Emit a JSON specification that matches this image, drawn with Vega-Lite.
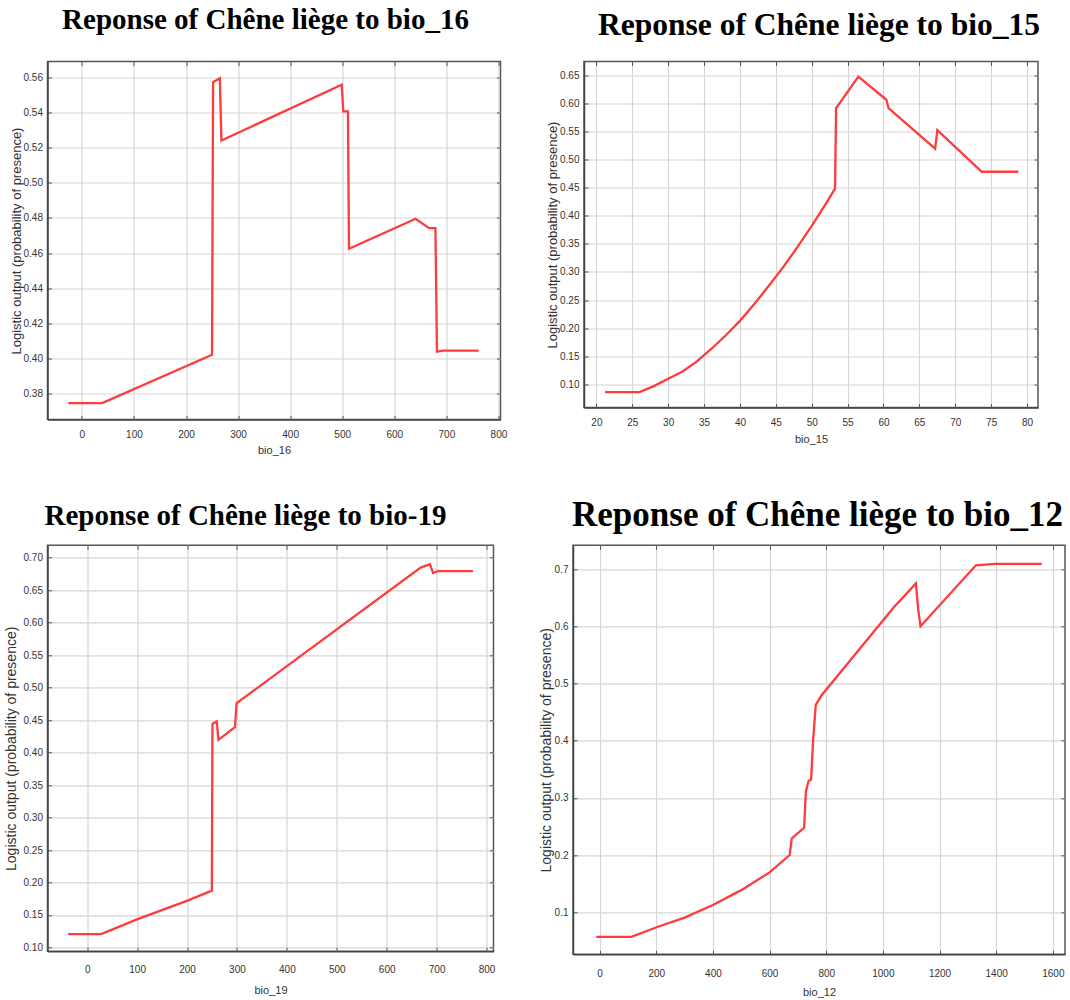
{
  "$schema": "https://vega.github.io/schema/vega-lite/v6.json",
  "background": "white",
  "padding": {"left": 2.5, "top": 4.5, "right": 0, "bottom": 0},
  "config": {
    "view": {"stroke": "#555555", "strokeWidth": 1.5},
    "axis": {
      "labelFont": "Liberation Sans", "labelFontSize": 10, "labelColor": "#333333",
      "titleFont": "Liberation Sans", "titleFontSize": 11, "titleFontWeight": "normal", "titleColor": "#333333",
      "gridColor": "#d6d6d6", "gridWidth": 1.2,
      "tickColor": "#555555", "tickSize": -4, "tickWidth": 1, "labelPadding": 9,
      "domain": true, "domainColor": "#444444", "domainWidth": 1.5
    },
    "title": {"font": "Liberation Serif", "fontWeight": "bold", "color": "#000000", "anchor": "middle", "frame": "group"}
  },
  "spacing": 40.8,
  "vconcat": [
    {
      "spacing": 36.5,
      "hconcat": [
        {
          "title": {"text": "Reponse of Chêne liège to bio_16", "fontSize": 29, "offset": 26, "dx": -8.5},
          "width": 453, "height": 358,
          "data": {"values": [
            {"bio_16": -26, "logistic": 0.3747}, {"bio_16": 39, "logistic": 0.3747},
            {"bio_16": 250, "logistic": 0.4022}, {"bio_16": 252, "logistic": 0.5572},
            {"bio_16": 265, "logistic": 0.5594}, {"bio_16": 268, "logistic": 0.524},
            {"bio_16": 499, "logistic": 0.5557}, {"bio_16": 502, "logistic": 0.5405},
            {"bio_16": 511, "logistic": 0.5405}, {"bio_16": 513, "logistic": 0.4625},
            {"bio_16": 641, "logistic": 0.4795}, {"bio_16": 667, "logistic": 0.4742},
            {"bio_16": 679, "logistic": 0.4742}, {"bio_16": 682, "logistic": 0.404},
            {"bio_16": 694, "logistic": 0.4046}, {"bio_16": 762, "logistic": 0.4046}
          ]},
          "layer": [
            {
              "mark": {"type": "line", "color": "#ff3b3b", "strokeWidth": 2.3},
              "encoding": {
                "x": {"field": "bio_16", "type": "quantitative", "scale": {"domain": [-66, 804], "nice": false, "zero": false},
                      "axis": {"title": "bio_16", "labelPadding": 14, "titlePadding": 5, "values": [0, 100, 200, 300, 400, 500, 600, 700, 800], "grid": true}},
                "y": {"field": "logistic", "type": "quantitative", "scale": {"domain": [0.3654, 0.5689], "nice": false, "zero": false},
                      "axis": {"title": "Logistic output (probability of presence)", "titleFontSize": 13, "titlePadding": 0, "values": [0.38, 0.40, 0.42, 0.44, 0.46, 0.48, 0.50, 0.52, 0.54, 0.56], "format": ".2f", "grid": true}}
              }
            },
            {
              "mark": {"type": "line", "strokeOpacity": 0},
              "encoding": {
                "x": {"field": "bio_16", "type": "quantitative", "scale": {"domain": [-66, 804], "nice": false, "zero": false},
                      "axis": {"orient": "top", "labels": false, "grid": false, "domain": false, "title": null, "values": [0, 100, 200, 300, 400, 500, 600, 700, 800]}},
                "y": {"field": "logistic", "type": "quantitative", "scale": {"domain": [0.3654, 0.5689], "nice": false, "zero": false},
                      "axis": {"orient": "right", "labels": false, "grid": false, "domain": false, "title": null, "values": [0.38, 0.40, 0.42, 0.44, 0.46, 0.48, 0.50, 0.52, 0.54, 0.56]}}
              }
            }
          ],
          "resolve": {"axis": {"x": "independent", "y": "independent"}}
        },
        {
          "title": {"text": "Reponse of Chêne liège to bio_15", "fontSize": 31.5, "offset": 20, "dx": 8},
          "width": 454, "height": 346,
          "data": {"values": [
            {"bio_15": 21.2, "logistic": 0.0865}, {"bio_15": 26.0, "logistic": 0.0865},
            {"bio_15": 28, "logistic": 0.097}, {"bio_15": 30, "logistic": 0.110},
            {"bio_15": 32, "logistic": 0.123}, {"bio_15": 34, "logistic": 0.141},
            {"bio_15": 36, "logistic": 0.163}, {"bio_15": 38, "logistic": 0.187},
            {"bio_15": 40, "logistic": 0.213}, {"bio_15": 42, "logistic": 0.243},
            {"bio_15": 44, "logistic": 0.275}, {"bio_15": 46, "logistic": 0.308},
            {"bio_15": 48, "logistic": 0.344}, {"bio_15": 50, "logistic": 0.382},
            {"bio_15": 52, "logistic": 0.422}, {"bio_15": 53.25, "logistic": 0.448},
            {"bio_15": 53.4, "logistic": 0.591}, {"bio_15": 56.5, "logistic": 0.647},
            {"bio_15": 60.4, "logistic": 0.606}, {"bio_15": 60.7, "logistic": 0.591},
            {"bio_15": 67.2, "logistic": 0.519}, {"bio_15": 67.5, "logistic": 0.552},
            {"bio_15": 73.7, "logistic": 0.478}, {"bio_15": 78.8, "logistic": 0.478}
          ]},
          "layer": [
            {
              "mark": {"type": "line", "color": "#ff3b3b", "strokeWidth": 2.3},
              "encoding": {
                "x": {"field": "bio_15", "type": "quantitative", "scale": {"domain": [18.27, 81.53], "nice": false, "zero": false},
                      "axis": {"title": "bio_15", "labelPadding": 14, "titlePadding": 6, "values": [20, 25, 30, 35, 40, 45, 50, 55, 60, 65, 70, 75, 80], "grid": true}},
                "y": {"field": "logistic", "type": "quantitative", "scale": {"domain": [0.059, 0.674], "nice": false, "zero": false},
                      "axis": {"title": "Logistic output (probability of presence)", "titleFontSize": 13, "titlePadding": 0, "values": [0.10, 0.15, 0.20, 0.25, 0.30, 0.35, 0.40, 0.45, 0.50, 0.55, 0.60, 0.65], "format": ".2f", "grid": true}}
              }
            },
            {
              "mark": {"type": "line", "strokeOpacity": 0},
              "encoding": {
                "x": {"field": "bio_15", "type": "quantitative", "scale": {"domain": [18.27, 81.53], "nice": false, "zero": false},
                      "axis": {"orient": "top", "labels": false, "grid": false, "domain": false, "title": null, "values": [20, 25, 30, 35, 40, 45, 50, 55, 60, 65, 70, 75, 80]}},
                "y": {"field": "logistic", "type": "quantitative", "scale": {"domain": [0.059, 0.674], "nice": false, "zero": false},
                      "axis": {"orient": "right", "labels": false, "grid": false, "domain": false, "title": null, "values": [0.10, 0.15, 0.20, 0.25, 0.30, 0.35, 0.40, 0.45, 0.50, 0.55, 0.60, 0.65]}}
              }
            }
          ],
          "resolve": {"axis": {"x": "independent", "y": "independent"}}
        }
      ]
    },
    {
      "spacing": 41.5,
      "hconcat": [
        {
          "title": {"text": "Reponse of Chêne liège to bio-19", "fontSize": 29, "offset": 13.5, "dx": -25},
          "width": 446, "height": 406,
          "data": {"values": [
            {"bio_19": -38, "logistic": 0.1206}, {"bio_19": 28, "logistic": 0.1206},
            {"bio_19": 101, "logistic": 0.1437}, {"bio_19": 201, "logistic": 0.172},
            {"bio_19": 249.7, "logistic": 0.1874}, {"bio_19": 251, "logistic": 0.444},
            {"bio_19": 259.6, "logistic": 0.448}, {"bio_19": 263, "logistic": 0.4196},
            {"bio_19": 296, "logistic": 0.439}, {"bio_19": 299.4, "logistic": 0.476},
            {"bio_19": 668, "logistic": 0.6846}, {"bio_19": 686.7, "logistic": 0.6897},
            {"bio_19": 693, "logistic": 0.6763}, {"bio_19": 703, "logistic": 0.6794},
            {"bio_19": 772.8, "logistic": 0.6794}
          ]},
          "layer": [
            {
              "mark": {"type": "line", "color": "#ff3b3b", "strokeWidth": 2.3},
              "encoding": {
                "x": {"field": "bio_19", "type": "quantitative", "scale": {"domain": [-79.5, 814], "nice": false, "zero": false},
                      "axis": {"title": "bio_19", "labelPadding": 17.5, "titlePadding": 10, "values": [0, 100, 200, 300, 400, 500, 600, 700, 800], "grid": true}},
                "y": {"field": "logistic", "type": "quantitative", "scale": {"domain": [0.0941, 0.719], "nice": false, "zero": false},
                      "axis": {"title": "Logistic output (probability of presence)", "titleFontSize": 14, "titlePadding": 5, "values": [0.10, 0.15, 0.20, 0.25, 0.30, 0.35, 0.40, 0.45, 0.50, 0.55, 0.60, 0.65, 0.70], "format": ".2f", "grid": true}}
              }
            },
            {
              "mark": {"type": "line", "strokeOpacity": 0},
              "encoding": {
                "x": {"field": "bio_19", "type": "quantitative", "scale": {"domain": [-79.5, 814], "nice": false, "zero": false},
                      "axis": {"orient": "top", "labels": false, "grid": false, "domain": false, "title": null, "values": [0, 100, 200, 300, 400, 500, 600, 700, 800]}},
                "y": {"field": "logistic", "type": "quantitative", "scale": {"domain": [0.0941, 0.719], "nice": false, "zero": false},
                      "axis": {"orient": "right", "labels": false, "grid": false, "domain": false, "title": null, "values": [0.10, 0.15, 0.20, 0.25, 0.30, 0.35, 0.40, 0.45, 0.50, 0.55, 0.60, 0.65, 0.70]}}
              }
            }
          ],
          "resolve": {"axis": {"x": "independent", "y": "independent"}}
        },
        {
          "title": {"text": "Reponse of Chêne liège to bio_12", "fontSize": 35, "offset": 11.5, "dx": -1.5},
          "width": 492, "height": 409,
          "data": {"values": [
            {"bio_12": -12, "logistic": 0.0575}, {"bio_12": 112, "logistic": 0.0575},
            {"bio_12": 206, "logistic": 0.075}, {"bio_12": 300, "logistic": 0.091},
            {"bio_12": 400, "logistic": 0.113}, {"bio_12": 500, "logistic": 0.139},
            {"bio_12": 600, "logistic": 0.170}, {"bio_12": 671, "logistic": 0.2004},
            {"bio_12": 678.5, "logistic": 0.2295}, {"bio_12": 722, "logistic": 0.248},
            {"bio_12": 728, "logistic": 0.311}, {"bio_12": 738, "logistic": 0.330},
            {"bio_12": 746.5, "logistic": 0.332}, {"bio_12": 753.5, "logistic": 0.399},
            {"bio_12": 763, "logistic": 0.4628}, {"bio_12": 783, "logistic": 0.479},
            {"bio_12": 1038, "logistic": 0.6327}, {"bio_12": 1116.6, "logistic": 0.6747},
            {"bio_12": 1124.7, "logistic": 0.629}, {"bio_12": 1133, "logistic": 0.600},
            {"bio_12": 1328.6, "logistic": 0.7065}, {"bio_12": 1395.8, "logistic": 0.709},
            {"bio_12": 1561, "logistic": 0.709}
          ]},
          "layer": [
            {
              "mark": {"type": "line", "color": "#ff3b3b", "strokeWidth": 2.3},
              "encoding": {
                "x": {"field": "bio_12", "type": "quantitative", "scale": {"domain": [-94, 1643], "nice": false, "zero": false},
                      "axis": {"title": "bio_12", "labelPadding": 18, "titlePadding": 8, "format": "d", "values": [0, 200, 400, 600, 800, 1000, 1200, 1400, 1600], "grid": true}},
                "y": {"field": "logistic", "type": "quantitative", "scale": {"domain": [0.0269, 0.7415], "nice": false, "zero": false},
                      "axis": {"title": "Logistic output (probability of presence)", "titleFontSize": 14, "titlePadding": 1, "values": [0.1, 0.2, 0.3, 0.4, 0.5, 0.6, 0.7], "format": ".1f", "grid": true}}
              }
            },
            {
              "mark": {"type": "line", "strokeOpacity": 0},
              "encoding": {
                "x": {"field": "bio_12", "type": "quantitative", "scale": {"domain": [-94, 1643], "nice": false, "zero": false},
                      "axis": {"orient": "top", "labels": false, "grid": false, "domain": false, "title": null, "values": [0, 200, 400, 600, 800, 1000, 1200, 1400, 1600]}},
                "y": {"field": "logistic", "type": "quantitative", "scale": {"domain": [0.0269, 0.7415], "nice": false, "zero": false},
                      "axis": {"orient": "right", "labels": false, "grid": false, "domain": false, "title": null, "values": [0.1, 0.2, 0.3, 0.4, 0.5, 0.6, 0.7]}}
              }
            }
          ],
          "resolve": {"axis": {"x": "independent", "y": "independent"}}
        }
      ]
    }
  ]
}
